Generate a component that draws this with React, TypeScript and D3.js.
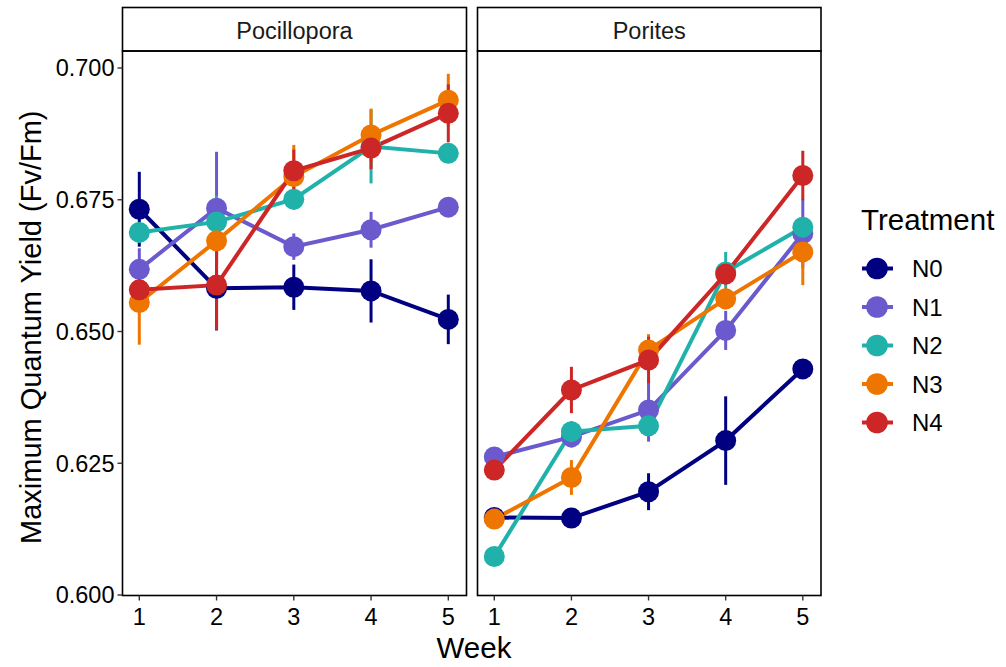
import * as d3 from "d3";

// weeks and treatments
const weeks = [1, 2, 3, 4, 5];
const treatments = ["N0", "N1", "N2", "N3", "N4"];
const colors = ["#000080", "#6A5ACD", "#20B2AA", "#EE7600", "#CD2626"];
const species = ["Pocillopora", "Porites"];
const yTicks = [0.6, 0.625, 0.65, 0.675, 0.7];

// Pocillopora means and SE per treatment (weeks 1-5)
const pocMean = [
  [0.6732, 0.6582, 0.6584, 0.6577, 0.6523],
  [0.6618, 0.6734, 0.6661, 0.6693, 0.6736],
  [0.6688, 0.6708, 0.6751, 0.6851, 0.6838],
  [0.6555, 0.6672, 0.6794, 0.6873, 0.6939],
  [0.6579, 0.6588, 0.6805, 0.6848, 0.6914],
];
const pocSe = [
  [0.0071, 0.008, 0.0043, 0.006, 0.0047],
  [0.004, 0.0107, 0.0025, 0.0034, 0.001],
  [0.002, 0.005, 0.002, 0.007, 0.001],
  [0.008, 0.004, 0.006, 0.005, 0.005],
  [0.004, 0.0085, 0.004, 0.004, 0.0055],
];

// Porites means and SE
const porMean = [
  [0.6147, 0.6146, 0.6196, 0.6293, 0.6429],
  [0.6262, 0.63, 0.6351, 0.6502, 0.6686],
  [0.6073, 0.631, 0.6321, 0.6613, 0.6698],
  [0.6144, 0.6223, 0.6465, 0.6562, 0.6651],
  [0.6237, 0.6389, 0.6446, 0.6609, 0.6796],
];
const porSe = [
  [0.001, 0.001, 0.0035, 0.0084, 0.001],
  [0.001, 0.002, 0.006, 0.0037, 0.0065],
  [0.001, 0.002, 0.001, 0.0038, 0.001],
  [0.001, 0.0033, 0.003, 0.002, 0.0063],
  [0.001, 0.0044, 0.0044, 0.002, 0.0047],
];

const font = "'Liberation Sans', Arial, sans-serif";

const panels = [
  {name: species[0], left: 122.5, right: 466.5, mean: pocMean, se: pocSe},
  {name: species[1], left: 477.5, right: 821, mean: porMean, se: porSe},
];

const stripTop = 7.5, stripBottom = 51, plotBottom = 595.5;

const y = d3.scaleLinear().domain([0.6, 0.7]).range([595, 68]);

const App = () => {
  const line = (x: d3.ScaleLinear<number, number>) =>
    d3.line<[number, number]>().x(d => x(d[0])).y(d => y(d[1]));

  return (
    <svg width={1006} height={667} style={{display: "block", position: "absolute", left: 0, top: 0, background: "#fff"}}
         fontFamily={font}>
      {panels.map((p, pi) => {
        const x = d3.scaleLinear().domain([1, 5]).range([p.left + 16.8, p.right - 18.2]);
        return (
          <g key={p.name}>
            {/* strip */}
            <rect x={p.left} y={stripTop} width={p.right - p.left} height={stripBottom - stripTop}
                  fill="#fff" stroke="#000" strokeWidth={1.6}/>
            <text x={(p.left + p.right) / 2} y={39} textAnchor="middle" fontSize={23.5} fill="#1a1a1a">{p.name}</text>

            {/* lines */}
            {treatments.map((t, i) => (
              <path key={"l" + t} d={line(x)(weeks.map((w, j) => [w, p.mean[i][j]]))!}
                    fill="none" stroke={colors[i]} strokeWidth={4}/>
            ))}
            {/* error bars */}
            {treatments.map((t, i) => weeks.map((w, j) => (
              <line key={"e" + t + w} x1={x(w)} x2={x(w)}
                    y1={y(p.mean[i][j] - p.se[i][j])} y2={y(p.mean[i][j] + p.se[i][j])}
                    stroke={colors[i]} strokeWidth={3}/>
            )))}
            {/* points */}
            {treatments.map((t, i) => weeks.map((w, j) => (
              <circle key={"p" + t + w} cx={x(w)} cy={y(p.mean[i][j])} r={10.5} fill={colors[i]}/>
            )))}

            {/* panel border */}
            <rect x={p.left} y={stripBottom} width={p.right - p.left} height={plotBottom - stripBottom}
                  fill="none" stroke="#000" strokeWidth={1.6}/>

            {/* x axis */}
            {weeks.map(w => (
              <g key={"xt" + w}>
                <line x1={x(w)} x2={x(w)} y1={plotBottom} y2={plotBottom + 5} stroke="#333" strokeWidth={1.4}/>
                <text x={x(w)} y={625} textAnchor="middle" fontSize={23.5} fill="#000">{w}</text>
              </g>
            ))}

            {/* y axis on first panel */}
            {pi === 0 && yTicks.map(v => (
              <g key={"yt" + v}>
                <line x1={p.left - 5} x2={p.left} y1={y(v)} y2={y(v)} stroke="#333" strokeWidth={1.4}/>
                <text x={p.left - 8} y={y(v)} dy="0.36em" textAnchor="end" fontSize={23.5} fill="#000">{d3.format(".3f")(v)}</text>
              </g>
            ))}
          </g>
        );
      })}

      {/* axis titles */}
      <text x={474} y={658} textAnchor="middle" fontSize={29.5} fill="#000">Week</text>
      <text transform={`translate(41,${(stripBottom + plotBottom) / 2 + 4}) rotate(-90)`} textAnchor="middle"
            fontSize={29} fill="#000">Maximum Quantum Yield (Fv/Fm)</text>

      {/* legend */}
      <text x={861} y={230} fontSize={29.5} fill="#000">Treatment</text>
      {treatments.map((t, i) => {
        const cy = 268.5 + i * 38.5;
        return (
          <g key={"lg" + t}>
            <line x1={862} x2={893} y1={cy} y2={cy} stroke={colors[i]} strokeWidth={4}/>
            <circle cx={877} cy={cy} r={10.8} fill={colors[i]}/>
            <text x={912} y={cy} dy="0.36em" fontSize={24} fill="#000">{t}</text>
          </g>
        );
      })}
    </svg>
  );
};

export default App;
